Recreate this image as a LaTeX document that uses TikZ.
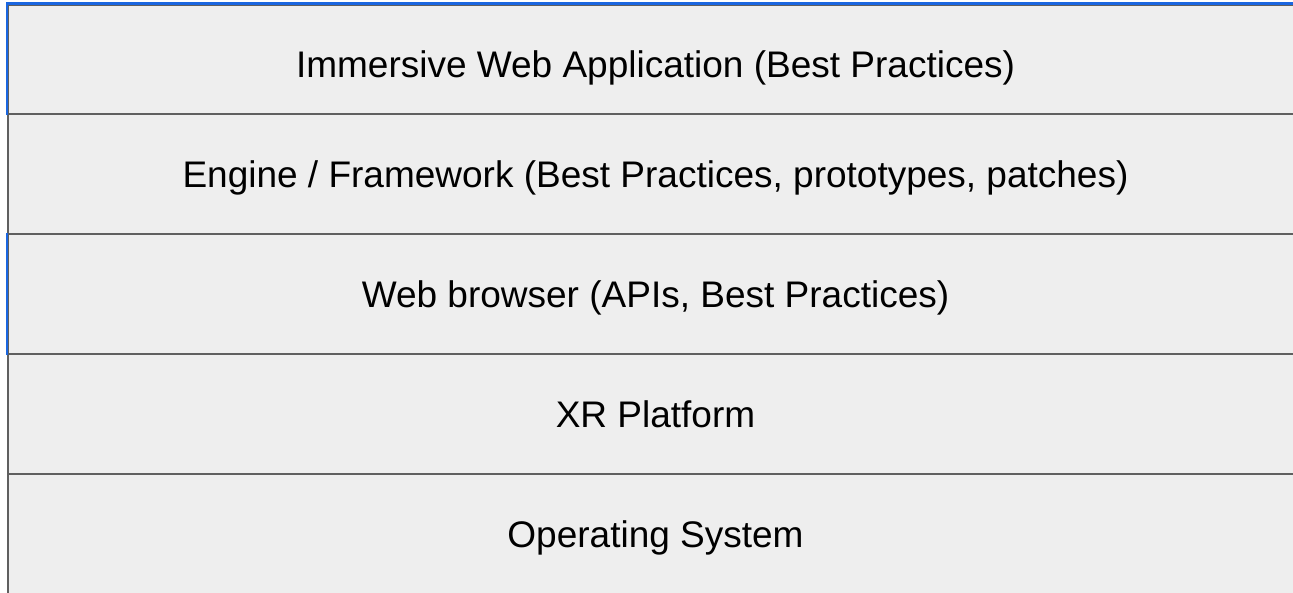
\documentclass[tikz,border=0pt]{standalone}
\usepackage{fontspec}
\setmainfont{Liberation Sans}
\definecolor{layerfill}{HTML}{EEEEEE}
\definecolor{layerline}{HTML}{5F5F5F}
\definecolor{selblue}{HTML}{1A66E0}
\begin{document}
\begin{tikzpicture}[x=1pt,y=-1pt,
  layer/.style={draw=layerline, line width=2.2pt, fill=layerfill,
    minimum width=1295pt, minimum height=120pt, inner sep=0pt,
    text height=26.5pt, text depth=0pt,
    font=\fontsize{37}{40}\selectfont, text=black},
  sel/.style={draw=selblue, line width=2.2pt}]
\useasboundingbox (0,0) rectangle (1293,592);
\clip (0,0) rectangle (1293,592);
\node[layer] (app) at (655.5,64.5) {Immersive Web Application (Best Practices)};
\node[layer] (engine) at (655.5,174) {Engine / Framework (Best Practices, prototypes, patches)};
\node[layer] (browser) at (655.5,294) {Web browser (APIs, Best Practices)};
\node[layer] (xr) at (655.5,414) {XR Platform};
\node[layer] (os) at (655.5,534) {Operating System};
\draw[sel] ([yshift=10.5pt]app.south west) -- (app.north west) -- (app.north east);
\draw[sel] (browser.south west) -- (browser.north west);
\end{tikzpicture}
\end{document}
